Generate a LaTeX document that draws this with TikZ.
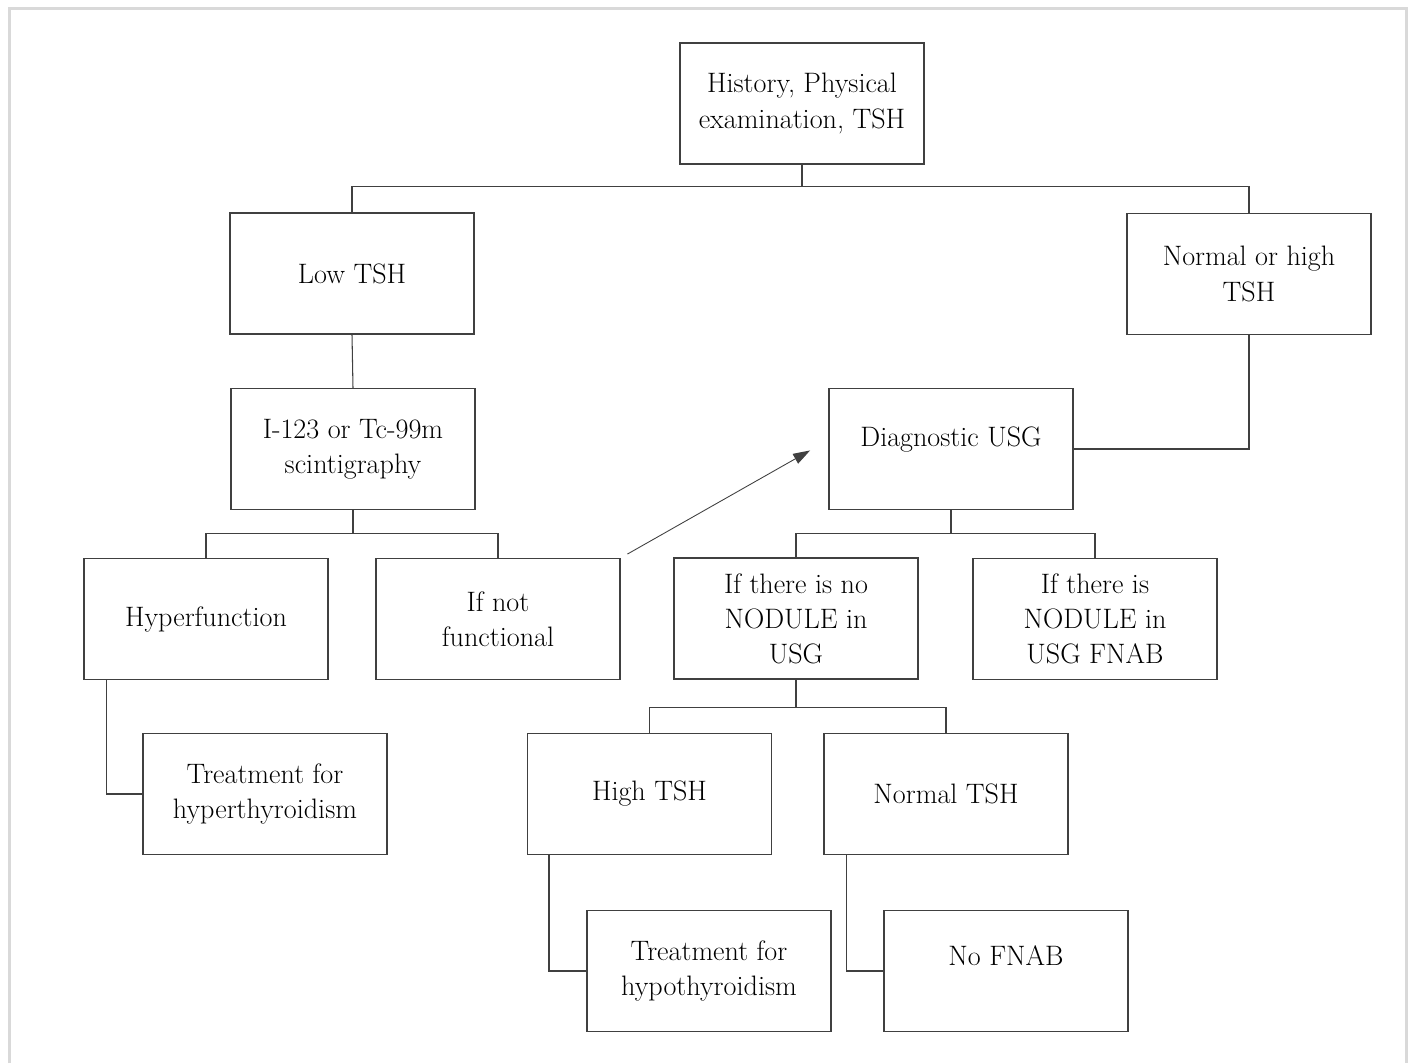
\documentclass[tikz,border=0pt]{standalone}
\usetikzlibrary{arrows.meta}

\definecolor{framegray}{RGB}{217,217,217}
\definecolor{linegray}{RGB}{64,64,64}

\begin{document}
\begin{tikzpicture}[
  font=\fontsize{16}{20}\selectfont,
  box/.style={draw=linegray, line width=0.6pt, minimum width=4.88cm, minimum height=2.42cm,
              inner sep=2pt, align=center},
  link/.style={draw=linegray, line width=0.6pt},
  jump/.style={-{Triangle[length=0.34cm, width=0.22cm]}, line width=0.5pt,
               shorten <=4.5pt, shorten >=12pt},
]
  \useasboundingbox (0,0) rectangle (28.2,-21.26);
  % outer frame, open at the bottom
  \draw[framegray, line width=0.06cm] (0.19,-21.26) -- (0.19,-0.17) -- (28.12,-0.17) -- (28.12,-21.26);

  % ===================== TOP =====================
  \node[box] (hist) at (16.04,-2.07) {History, Physical\\examination, TSH};

  \node[box] (lowtsh) at (7.04,-5.47) {Low TSH};
  \node[box] (normhigh) at (24.98,-5.48) {Normal or high\\TSH};

  \draw[link] (hist.south) -- ++(0,-0.44) coordinate (busA) -| (lowtsh.north);
  \draw[link] (busA) -| (normhigh.north);

  % ===================== LEFT: LOW TSH =====================
  \node[box] (scint) at (7.06,-8.98) {I-123 or Tc-99m\\scintigraphy};
  \draw[link] (lowtsh.south) -- (scint.north);

  \node[box] (hyperf) at (4.12,-12.38) {Hyperfunction};
  \node[box] (notfunc) at (9.96,-12.38) {If not\\functional};
  \draw[link] (scint.south) -- ++(0,-0.46) coordinate (busB) -| (hyperf.north);
  \draw[link] (busB) -| (notfunc.north);

  \node[box] (txhyper) at (5.30,-15.88) {Treatment for\\hyperthyroidism};
  \draw[link] ([xshift=0.46cm]hyperf.south west) |- (txhyper.west);

  % ===================== RIGHT: USG =====================
  \node[box] (usg) at (19.02,-8.98) {Diagnostic USG\\[-6.4pt]};
  \draw[link] (normhigh.south) |- (usg.east);
  \draw[jump, linegray] (notfunc.north east) -- ([yshift=0.18cm]usg.west);

  \node[box] (nonod) at (15.92,-12.37) {If there is no\\NODULE in\\USG};
  \node[box] (nod) at (21.90,-12.38) {If there is\\NODULE in\\USG FNAB};
  \draw[link] (usg.south) -- ++(0,-0.46) coordinate (busC) -| (nonod.north);
  \draw[link] (busC) -| (nod.north);

  \node[box] (hightsh) at (12.99,-15.88) {High TSH};
  \node[box] (normtsh) at (18.92,-15.88) {Normal TSH};
  \draw[link] (nonod.south) -- ++(0,-0.56) coordinate (busD) -| (hightsh.north);
  \draw[link] (busD) -| (normtsh.north);

  \node[box] (txhypo) at (14.18,-19.42) {Treatment for\\hypothyroidism};
  \node[box] (nofnab) at (20.12,-19.42) {No FNAB\\[-2pt]};
  \draw[link] ([xshift=0.44cm]hightsh.south west) |- (txhypo.west);
  \draw[link] ([xshift=0.46cm]normtsh.south west) |- (nofnab.west);
\end{tikzpicture}
\end{document}
